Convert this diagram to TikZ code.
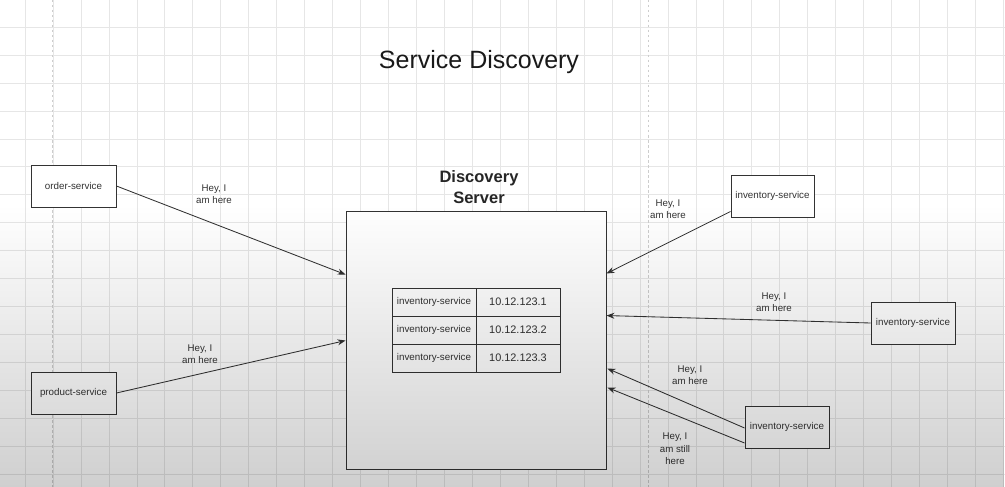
\documentclass[tikz,border=0pt]{standalone}
\usepackage{fontspec}
\setmainfont{Liberation Sans}
\usetikzlibrary{arrows.meta,calc,fadings}
\definecolor{gridc}{HTML}{E6E6E6}
\definecolor{pagec}{HTML}{CDCDCD}
\definecolor{ink}{HTML}{333333}
\tikzfading[name=myfade, top color=transparent!100, bottom color=transparent!0]
\tikzset{
  box/.style={draw=ink, line width=0.9pt, fill=white, minimum width=85pt, minimum height=42pt, inner sep=0pt, text=ink, font=\fontsize{9.8}{12}\selectfont},
  cella/.style={draw=ink, line width=0.8pt, fill=white, minimum width=84pt, minimum height=28pt, inner sep=0pt, text=ink, font=\fontsize{9.8}{12}\selectfont},
  cellb/.style={cella, font=\fontsize{10.9}{13}\selectfont},
  lbl/.style={align=center, text=ink, font=\fontsize{9.7}{12.3}\selectfont, inner sep=0pt},
  conn/.style={draw=ink, line width=0.85pt, -{Stealth[length=8pt,width=6pt]}}
}
\begin{document}
\begin{tikzpicture}[x=1pt,y=-1pt]
\useasboundingbox (0,0) rectangle (1005,487);
\fill[white] (0,0) rectangle (1005,487);
% grid
\foreach \i in {0,...,35} {\draw[gridc, line width=0.6pt] ({25+27.95*\i},0) -- ({25+27.95*\i},487);}
\foreach \j in {0,...,17} {\draw[gridc, line width=0.6pt] (0,{27+27.95*\j}) -- (1005,{27+27.95*\j});}
% page breaks
\draw[pagec, line width=1pt, dash pattern=on 2.5pt off 2.5pt] (52.5,0) -- (52.5,487);
\draw[pagec, line width=1pt, dash pattern=on 2.5pt off 2.5pt] (648,0) -- (648,487);

% title
\node[text=black!90, font=\fontsize{25}{30}\selectfont, inner sep=0pt] (title) at (479,62) {Service Discovery};

% discovery server
\node[draw=ink, line width=0.9pt, fill=white, minimum width=260pt, minimum height=258pt, inner sep=0pt] (server) at (476,340) {};
\node[align=center, text=black!85, font=\bfseries\fontsize{16.5}{21}\selectfont, inner sep=0pt] (serverlbl) at (479,187.5) {Discovery\\Server};

% table
\node[cella] (r1a) at (434,302) {inventory-service};
\node[cellb] (r1b) at (518,302) {10.12.123.1};
\node[cella] (r2a) at (434,330) {inventory-service};
\node[cellb] (r2b) at (518,330) {10.12.123.2};
\node[cella] (r3a) at (434,358) {inventory-service};
\node[cellb] (r3b) at (518,358) {10.12.123.3};

% services
\node[box] (order) at (73.5,186) {order-service};
\node[box] (product) at (73.5,393) {product-service};
\node[box, minimum width=83pt] (inv1) at (772.5,196) {inventory-service};
\node[box, minimum width=84pt] (inv2) at (913,323) {inventory-service};
\node[box, minimum width=84pt] (inv3) at (787,427) {inventory-service};

% connectors
\draw[conn] (order.east) -- ($(server.north west)+(0,64)$);
\draw[conn] (product.east) -- ($(server.north west)+(0,130)$);
\draw[conn] ($(inv1.south west)+(0,-6)$) -- ($(server.north east)+(0,63)$);
\draw[conn] (inv2.west) -- ($(server.north east)+(0,105)$);
\draw[conn] ($(inv3.west)+(0,1)$) -- ($(server.north east)+(1,158)$);
\draw[conn] ($(inv3.west)+(0,16)$) -- ($(server.north east)+(1,177)$);

% labels
\node[lbl] (l1) at (214,194) {Hey, I\\am here};
\node[lbl] (l2) at (200,354.5) {Hey, I\\am here};
\node[lbl] (l3) at (668,209.5) {Hey, I\\am here};
\node[lbl] (l4) at (774,302.5) {Hey, I\\am here};
\node[lbl] (l5) at (690,375.5) {Hey, I\\am here};
\node[lbl] (l6) at (675,449) {Hey, I\\am still\\here};

% screen gradient overlay
\fill[black, path fading=myfade, fill opacity=0.19] (0,205) rectangle (1005,487);
\end{tikzpicture}
\end{document}
